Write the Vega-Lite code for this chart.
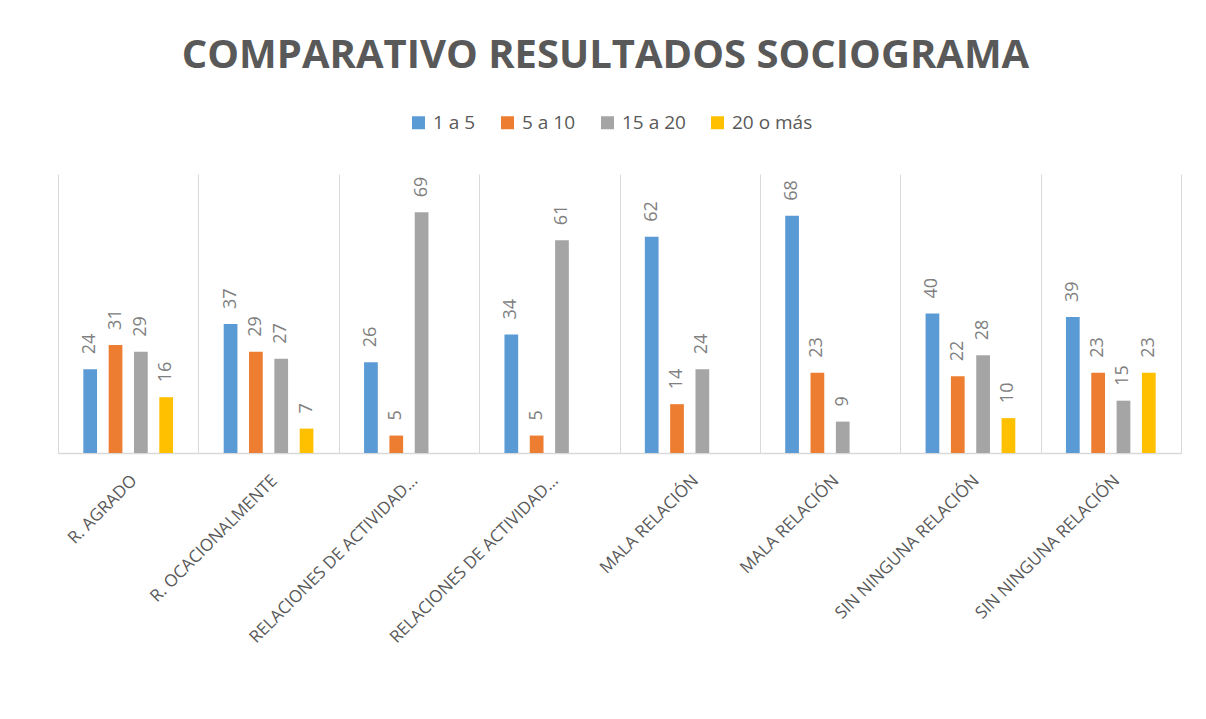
{
  "$schema": "https://vega.github.io/schema/vega-lite/v6.json",
  "width": 1123,
  "height": 279,
  "autosize": {"type": "none"},
  "padding": {"left": 58, "top": 174, "right": 25, "bottom": 266},
  "background": "white",
  "title": {
    "text": "COMPARATIVO RESULTADOS SOCIOGRAMA",
    "font": "Open Sans",
    "fontSize": 40,
    "fontWeight": "bold",
    "color": "#595959",
    "anchor": "middle",
    "frame": "group",
    "dx": -14,
    "offset": 37
  },
  "data": {
    "values": [
      {"grupo": "1|R. AGRADO", "serie": "1 a 5", "valor": 24},
      {"grupo": "1|R. AGRADO", "serie": "5 a 10", "valor": 31},
      {"grupo": "1|R. AGRADO", "serie": "15 a 20", "valor": 29},
      {"grupo": "1|R. AGRADO", "serie": "20 o más", "valor": 16},
      {"grupo": "2|R. OCACIONALMENTE", "serie": "1 a 5", "valor": 37},
      {"grupo": "2|R. OCACIONALMENTE", "serie": "5 a 10", "valor": 29},
      {"grupo": "2|R. OCACIONALMENTE", "serie": "15 a 20", "valor": 27},
      {"grupo": "2|R. OCACIONALMENTE", "serie": "20 o más", "valor": 7},
      {"grupo": "3|RELACIONES DE ACTIVIDAD…", "serie": "1 a 5", "valor": 26},
      {"grupo": "3|RELACIONES DE ACTIVIDAD…", "serie": "5 a 10", "valor": 5},
      {"grupo": "3|RELACIONES DE ACTIVIDAD…", "serie": "15 a 20", "valor": 69},
      {"grupo": "4|RELACIONES DE ACTIVIDAD…", "serie": "1 a 5", "valor": 34},
      {"grupo": "4|RELACIONES DE ACTIVIDAD…", "serie": "5 a 10", "valor": 5},
      {"grupo": "4|RELACIONES DE ACTIVIDAD…", "serie": "15 a 20", "valor": 61},
      {"grupo": "5|MALA RELACIÓN", "serie": "1 a 5", "valor": 62},
      {"grupo": "5|MALA RELACIÓN", "serie": "5 a 10", "valor": 14},
      {"grupo": "5|MALA RELACIÓN", "serie": "15 a 20", "valor": 24},
      {"grupo": "6|MALA RELACIÓN", "serie": "1 a 5", "valor": 68},
      {"grupo": "6|MALA RELACIÓN", "serie": "5 a 10", "valor": 23},
      {"grupo": "6|MALA RELACIÓN", "serie": "15 a 20", "valor": 9},
      {"grupo": "7|SIN NINGUNA RELACIÓN", "serie": "1 a 5", "valor": 40},
      {"grupo": "7|SIN NINGUNA RELACIÓN", "serie": "5 a 10", "valor": 22},
      {"grupo": "7|SIN NINGUNA RELACIÓN", "serie": "15 a 20", "valor": 28},
      {"grupo": "7|SIN NINGUNA RELACIÓN", "serie": "20 o más", "valor": 10},
      {"grupo": "8|SIN NINGUNA RELACIÓN", "serie": "1 a 5", "valor": 39},
      {"grupo": "8|SIN NINGUNA RELACIÓN", "serie": "5 a 10", "valor": 23},
      {"grupo": "8|SIN NINGUNA RELACIÓN", "serie": "15 a 20", "valor": 15},
      {"grupo": "8|SIN NINGUNA RELACIÓN", "serie": "20 o más", "valor": 23}
    ]
  },
  "encoding": {
    "x": {
      "field": "grupo",
      "type": "nominal",
      "sort": "ascending",
      "title": null,
      "scale": {"paddingInner": 0, "paddingOuter": 0},
      "axis": {
        "labelExpr": "split(datum.value, '|')[1]",
        "labelAngle": -45,
        "labelAlign": "right",
        "labelBaseline": "top",
        "labelPadding": 19,
        "labelFont": "Open Sans",
        "labelFontSize": 17,
        "labelColor": "#595959",
        "labelOverlap": false,
        "labelLimit": 0,
        "labelBound": false,
        "ticks": false,
        "grid": true,
        "gridColor": "#d9d9d9",
        "gridWidth": 1,
        "tickBand": "extent",
        "domain": true,
        "domainColor": "#d9d9d9",
        "domainWidth": 1.5
      }
    },
    "xOffset": {
      "field": "serie",
      "type": "nominal",
      "scale": {
        "domain": ["1 a 5", "5 a 10", "15 a 20", "20 o más"],
        "paddingInner": 0.458,
        "paddingOuter": 1.154
      }
    },
    "y": {
      "field": "valor",
      "type": "quantitative",
      "scale": {"domain": [0, 80], "nice": false},
      "axis": null
    }
  },
  "layer": [
    {
      "mark": {"type": "bar"},
      "encoding": {
        "color": {
          "field": "serie",
          "type": "nominal",
          "scale": {
            "domain": ["1 a 5", "5 a 10", "15 a 20", "20 o más"],
            "range": ["#5B9BD5", "#ED7D31", "#A5A5A5", "#FFC000"]
          },
          "legend": {
            "title": null,
            "orient": "none",
            "direction": "horizontal",
            "legendX": 351,
            "legendY": -61,
            "symbolType": "square",
            "symbolSize": 169,
            "symbolStrokeWidth": 0,
            "labelFont": "Open Sans",
            "labelFontSize": 19,
            "labelColor": "#595959",
            "labelOffset": 5,
            "columnPadding": 22,
            "padding": 0
          }
        }
      }
    },
    {
      "mark": {
        "type": "text",
        "angle": 270,
        "align": "left",
        "baseline": "middle",
        "dx": 15,
        "font": "Open Sans",
        "fontSize": 18,
        "color": "#808080"
      },
      "encoding": {
        "text": {"field": "valor", "type": "quantitative"}
      }
    }
  ],
  "config": {
    "view": {"stroke": null}
  }
}
